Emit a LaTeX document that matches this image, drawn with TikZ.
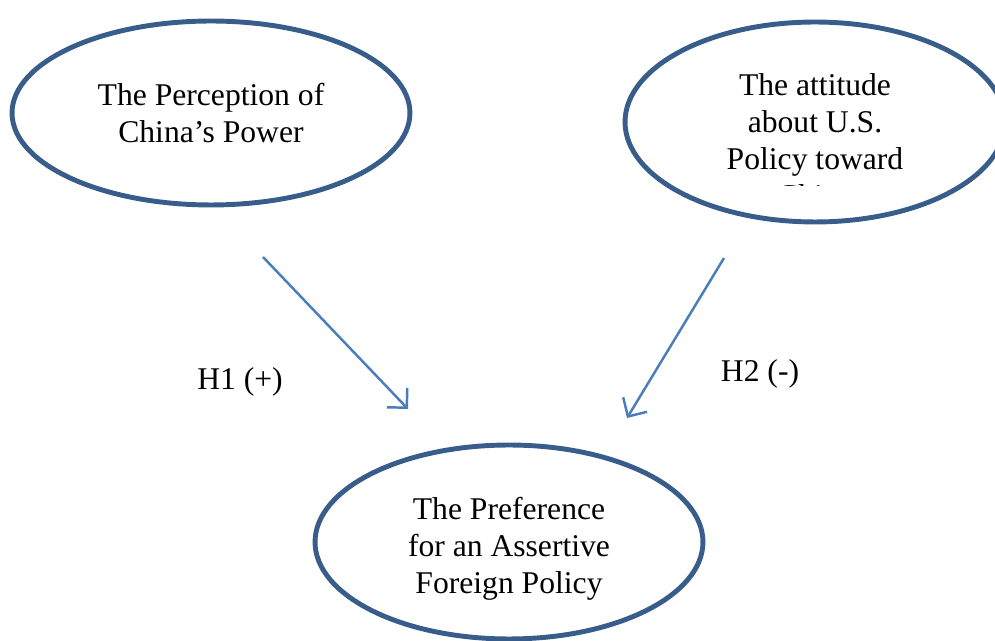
\documentclass[tikz,border=0pt]{standalone}
\usepackage{fontspec}
\setmainfont{Liberation Serif}
\usetikzlibrary{positioning, arrows.meta, shapes.geometric}

\definecolor{ovalblue}{RGB}{56,93,138}
\definecolor{arrowblue}{RGB}{74,126,187}

\begin{document}
\begin{tikzpicture}[
    x=0.02cm, y=-0.02cm,    % 参照画像のピクセル座標をそのまま使う
    >={Straight Barb[length=0.28cm, width=0.56cm]},
    font=\fontsize{18}{21}\selectfont,
    oval/.style={ellipse, draw=ovalblue, line width=2.8pt, fill=white, inner sep=0pt, align=center},
    link/.style={->, draw=arrowblue, line width=1.4pt}
]
    \useasboundingbox (0,0) rectangle (995,641);
    \clip (0,0) rectangle (995,641);

    % --- 1. 楕円（三つの概念） ---
    \node [oval, minimum width=7.96cm, minimum height=3.68cm] (perception) at (211,113)
        {The Perception of\\China’s Power};
    \node [oval, minimum width=7.6cm, minimum height=4.0cm] (attitude) at (815,122) {};
    \node [oval, minimum width=7.76cm, minimum height=3.88cm] (preference) at (509,542) {};

    % 下の楕円の文字（少し下寄り）
    \node [align=center] (preference_text) at (509,549)
        {The Preference\\for an Assertive\\Foreign Policy};

    % 右の楕円の文字（最終行は下が切れている）
    \begin{scope}
        \clip (600,40) rectangle (995,186);
        \node [align=center] (attitude_text) at (815,140)
            {The attitude\\about U.S.\\Policy toward\\China};
    \end{scope}

    % --- 2. 矢印 ---
    \coordinate (h1_start) at (263,257);
    \coordinate (h1_end)   at (408,409);
    \coordinate (h2_start) at (724,258);
    \coordinate (h2_end)   at (627,418);
    \draw [link] (h1_start) -- (h1_end);
    \draw [link] (h2_start) -- (h2_end);

    % --- 3. 仮説ラベル ---
    \node (h1_label) at (240,382) {H1 (+)};
    \node (h2_label) at (760,374) {H2 (-)};

\end{tikzpicture}
\end{document}
